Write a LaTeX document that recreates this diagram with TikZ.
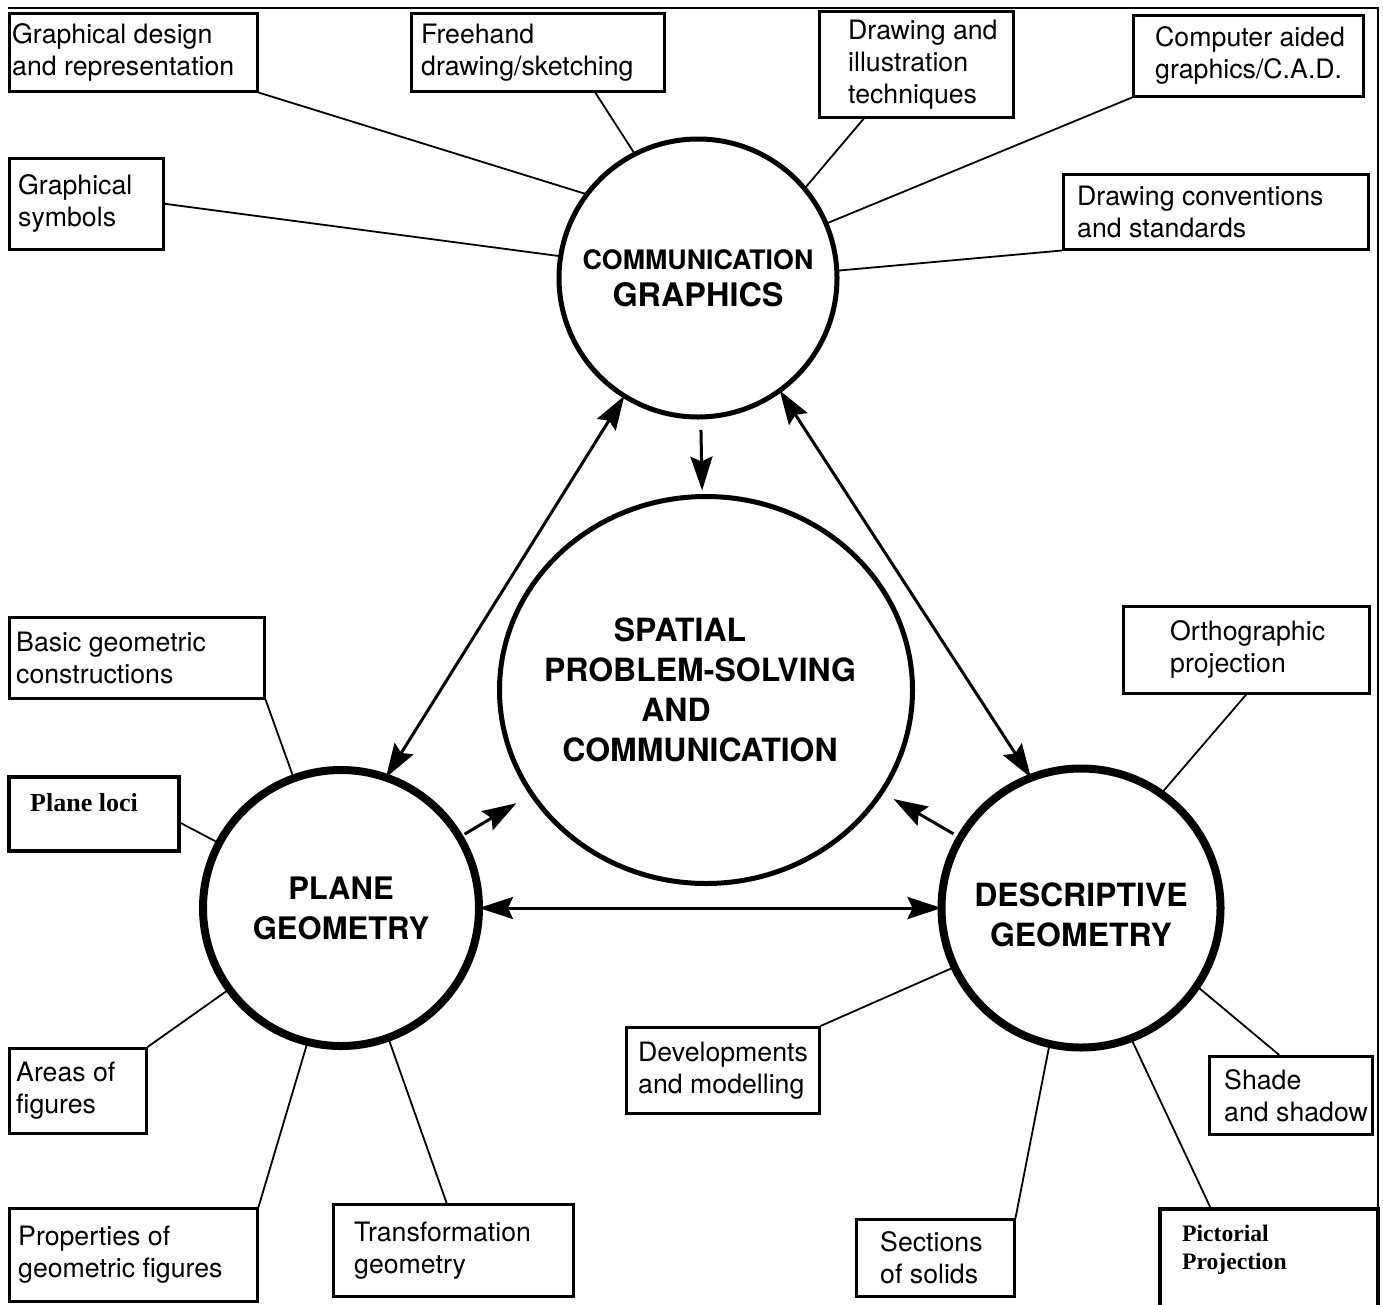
\documentclass[tikz,border=0pt]{standalone}
\usepackage{fontspec}
\setmainfont{TeX Gyre Heros}
\newfontfamily\timesfont{Liberation Serif}
\usetikzlibrary{shapes.geometric,arrows.meta}
\tikzset{
	every topic/.style={
		draw,
		line width=2.5pt,
		inner sep=0pt,
		anchor=north west
	},
	topic text/.style={
		anchor=west,
		align=left,
		inner sep=0pt,
		font=\fontsize{26.7}{32}\selectfont
	},
	serif topic/.style={
		draw,
		line width=4pt,
		inner sep=0pt,
		anchor=north west
	},
	serif text/.style={
		anchor=north west,
		align=left,
		inner sep=0pt,
		font=\timesfont\bfseries\fontsize{26}{28}\selectfont
	},
	hub/.style={
		circle,
		draw,
		inner sep=0pt,
		outer sep=0pt,
		align=center
	},
	hub text/.style={
		align=center,
		inner sep=0pt,
		font=\bfseries\fontsize{32}{40}\selectfont
	},
	link/.style={line width=1.8pt},
	flow/.style={line width=3pt},
}

\begin{document}
\begin{tikzpicture}[x=1pt, y=-1pt, >={Stealth[length=34pt, width=22pt, inset=5pt]}]

\useasboundingbox (0,0) rectangle (1383,1304);

% page frame
\draw[line width=2pt] (8,8) -- (1378,8) -- (1378,1207);

% the four hubs
\node[hub, line width=5pt, minimum size=278pt,
	font=\bfseries\fontsize{26.8}{37}\selectfont] (comm) at (698,278)
	{COMMUNICATION\\{\fontsize{32.4}{37}\selectfont GRAPHICS}};
\node[hub, ellipse, line width=5pt, minimum width=413pt, minimum height=387pt,
	label={[hub text, xshift=-6pt]center:SPATIAL\kern40pt\\PROBLEM-SOLVING\\AND\kern48pt\\COMMUNICATION}]
	(spatial) at (706,690) {};
\node[hub, line width=8pt, minimum size=276pt,
	font=\bfseries\fontsize{31}{40}\selectfont] (plane) at (341,908) {PLANE\\GEOMETRY};
\node[hub, line width=8pt, minimum size=279pt,
	label={[hub text, yshift=-7pt]center:DESCRIPTIVE\\GEOMETRY}] (desc) at (1081,908) {};

% topic boxes: name/left/top/right/bottom/indent/text
\foreach \n/\xa/\ya/\xb/\yb/\p/\t in {
	gd/8/12/256/90/4/{Graphical design\\and representation},
	fh/410/12/663/90/11/{Freehand\\drawing/sketching},
	di/818/10/1012/116/30/{Drawing and\\illustration\\techniques},
	cad/1132/14/1362/95/23/{Computer aided\\graphics/C.A.D.},
	gs/8/157/162/248/10/{Graphical\\symbols},
	dc/1062/173/1367/248/15/{Drawing conventions\\and standards},
	bg/8/616/263/697/8/{Basic geometric\\constructions},
	af/8/1047/145/1132/8/{Areas of\\figures},
	pg/8/1207/256/1300/10/{Properties of\\geometric figures},
	tg/332/1203/572/1295/22/{Transformation\\geometry},
	op/1122/605/1368/692/48/{Orthographic\\projection},
	dm/625/1026/818/1112/13/{Developments\\and modelling},
	ss/1208/1055/1371/1133/16/{Shade\\and shadow},
	so/855/1218/1013/1295/25/{Sections\\of solids}}
	\node[every topic, minimum width={(\xb-\xa)*1pt}, minimum height={(\yb-\ya)*1pt},
		label={[topic text, xshift=\p pt]west:{\t}}] (\n) at (\xa,\ya) {};

\node[serif topic, minimum width=170pt, minimum height=74pt,
	label={[serif text, xshift=23pt, yshift=-18pt]north west:Plane loci}] (loci) at (7,775) {};
\node[serif topic, minimum width=218pt, minimum height=102pt,
	label={[serif text, font=\timesfont\bfseries\fontsize{23.6}{28}\selectfont,
		xshift=24pt, yshift=-18pt]north west:Pictorial\\Projection}] (pict) at (1158,1207) {};

% links to communication graphics
\draw[link] (gd.south east) -- (comm.143);
\draw[link] (fh.-35.8) -- (comm.117);
\draw[link] (di.226.7) -- (comm.40.7);
\draw[link] (cad.south west) -- (comm.23.6);
\draw[link] (gs.east) -- (comm.171);
\draw[link] (dc.south west) -- (comm.3);

% links to plane geometry
\draw[link] (bg.south east) -- (plane.110.6);
\draw[link] (loci.-6.5) -- (plane.152.7);
\draw[link] (af.north east) -- (plane.216.2);
\draw[link] (pg.north east) -- (plane.256.5);
\draw[link] (tg.98.7) -- (plane.290.7);

% links to descriptive geometry
\draw[link] (op.south) -- (desc.55);
\draw[link] (dm.north east) -- (desc.205);
\draw[link] (ss.106) -- (desc.326);
\draw[link] (so.north east) -- (desc.257);
\draw[link] (pict.138) -- (desc.291);

% arrows between hubs
\draw[flow, <->] (comm.238.7) -- (plane.71.7);
\draw[flow, <->] (comm.306.4) -- (desc.111);
\draw[flow, <->] (plane.east) -- (desc.west);

\draw[flow, ->, shorten <=13pt, shorten >=6pt] (comm) -- (spatial);
\draw[flow, ->, shorten <=6pt, shorten >=18pt] (plane) -- (spatial);
\draw[flow, ->, shorten <=8pt, shorten >=14pt] (desc) -- (spatial);

\end{tikzpicture}
\end{document}
